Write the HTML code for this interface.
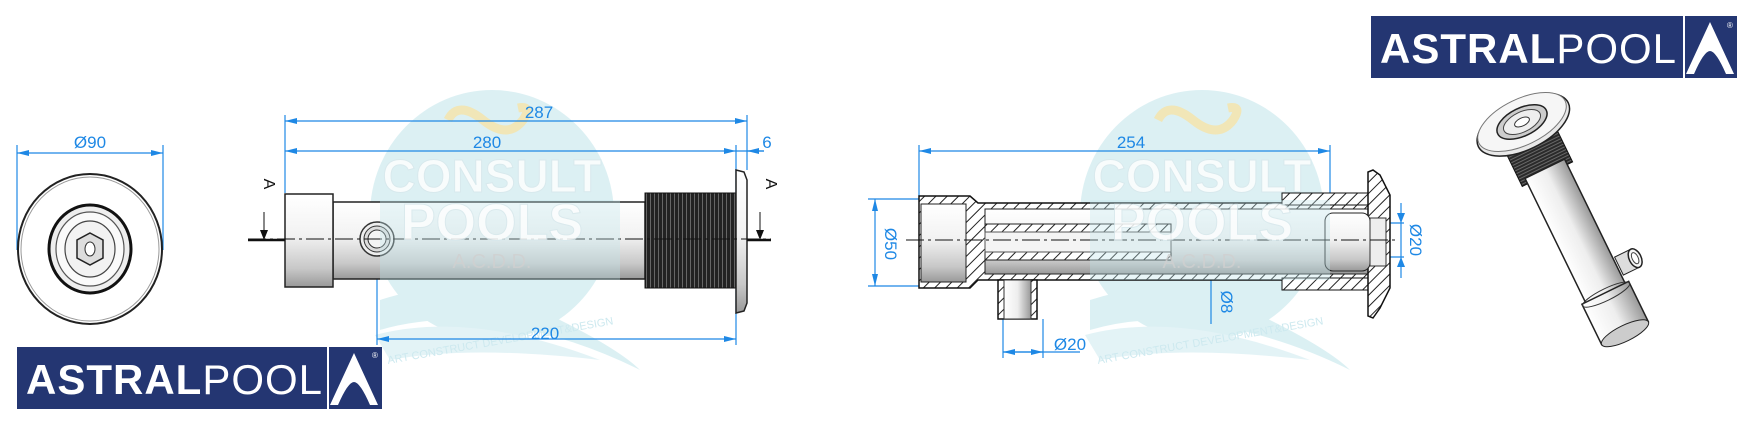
<!DOCTYPE html>
<html><head><meta charset="utf-8"><style>
html,body{margin:0;padding:0;background:#fff}
svg{display:block}
text{font-family:"Liberation Sans",sans-serif}
</style></head><body>
<svg width="1753" height="421" viewBox="0 0 1753 421" xmlns="http://www.w3.org/2000/svg">
<defs>
<linearGradient id="tg" x1="0" y1="0" x2="0" y2="1">
<stop offset="0" stop-color="#ffffff"/><stop offset="0.45" stop-color="#f2f2f2"/><stop offset="0.8" stop-color="#c8c8c8"/><stop offset="1" stop-color="#999"/></linearGradient>
<linearGradient id="tg3" x1="0" y1="0" x2="1" y2="0">
<stop offset="0" stop-color="#fff"/><stop offset="0.5" stop-color="#eee"/><stop offset="1" stop-color="#999"/></linearGradient>
<pattern id="thr" width="4" height="10" patternUnits="userSpaceOnUse"><rect width="4" height="10" fill="#222"/><rect x="2" width="1" height="10" fill="#666"/></pattern>
<pattern id="thr3" width="10" height="3" patternUnits="userSpaceOnUse"><rect width="10" height="3" fill="#2a2a2a"/><rect y="1.6" width="10" height="0.8" fill="#777"/></pattern>
<pattern id="hatch" width="8" height="8" patternUnits="userSpaceOnUse" patternTransform="rotate(45)"><rect width="8" height="8" fill="#fff"/><rect width="1" height="8" fill="#222"/></pattern>
<marker id="ar" markerWidth="12" markerHeight="6" refX="12" refY="3" orient="auto-start-reverse" markerUnits="userSpaceOnUse"><path d="M0,0 L12,3 L0,6z" fill="#1e88e5"/></marker>
</defs>

<!-- watermarks background -->
<g opacity="0.55">
<ellipse cx="492" cy="215" rx="122" ry="125" fill="#bfe4ea"/>
<path d="M380,300 Q470,270 560,320 Q620,350 640,370 Q560,330 470,320 Q420,318 380,330z" fill="#bfe4ea"/>
<path d="M375,335 Q470,310 600,360 Q470,345 390,360z" fill="#cdeaf0"/>
<ellipse cx="1202" cy="215" rx="122" ry="125" fill="#bfe4ea"/>
<path d="M1090,300 Q1180,270 1270,320 Q1330,350 1350,370 Q1270,330 1180,320 Q1130,318 1090,330z" fill="#bfe4ea"/>
<path d="M1085,335 Q1180,310 1310,360 Q1180,345 1100,360z" fill="#cdeaf0"/>
</g>
<path d="M448,120 q10,-20 35,0 q25,20 40,0 q10,-15 -5,-12" stroke="#f6e3a8" stroke-width="9" fill="none" opacity="0.8"/>
<path d="M1158,120 q10,-20 35,0 q25,20 40,0 q10,-15 -5,-12" stroke="#f6e3a8" stroke-width="9" fill="none" opacity="0.8"/>
<text x="388" y="364" font-size="11" fill="#cde9ef" font-family="Liberation Serif,serif" transform="rotate(-10 388 364)">ART CONSTRUCT DEVELOPMENT&amp;DESIGN</text>
<text x="1098" y="364" font-size="11" fill="#cde9ef" font-family="Liberation Serif,serif" transform="rotate(-10 1098 364)">ART CONSTRUCT DEVELOPMENT&amp;DESIGN</text>

<!-- front view -->
<g stroke="#1e88e5" stroke-width="1.2" fill="none">
<line x1="17" y1="145" x2="17" y2="250"/><line x1="163" y1="145" x2="163" y2="250"/>
<line x1="17" y1="153" x2="163" y2="153" marker-start="url(#ar)" marker-end="url(#ar)"/>
</g>
<text x="90" y="148" font-size="17" fill="#1e88e5" text-anchor="middle">Ø90</text>
<ellipse cx="90" cy="249" rx="72" ry="75" fill="#fff" stroke="#222" stroke-width="2"/>
<ellipse cx="90" cy="249" rx="69" ry="72" fill="none" stroke="#999" stroke-width="1"/>
<ellipse cx="90" cy="249" rx="41" ry="44" fill="#eee" stroke="#111" stroke-width="3"/>
<ellipse cx="90" cy="249" rx="34" ry="37" fill="#fafafa" stroke="#555" stroke-width="1.2"/>
<ellipse cx="90" cy="249" rx="25" ry="28" fill="#f2f2f2" stroke="#444" stroke-width="1.2"/>
<polygon points="90,233 103,240 103,258 90,265 77,258 77,240" fill="#ddd" stroke="#222" stroke-width="1.5"/>
<ellipse cx="90" cy="249" rx="5" ry="7" fill="#fff" stroke="#333"/>

<!-- logos -->
<g>
<rect x="17" y="347" width="365" height="62" fill="#243672"/>
<rect x="327" y="347" width="2" height="62" fill="#fff"/>
<text x="26" y="394" font-size="42" font-weight="bold" fill="#fff" letter-spacing="1">ASTRAL<tspan font-weight="normal">POOL</tspan></text>
<path d="M354,353 L378,405 L370,405 Q360,382 354,382 Q348,382 338,405 L330,405z" fill="#fff"/>
<text x="372" y="358" font-size="8" fill="#fff">®</text>
</g>
<g>
<rect x="1371" y="16" width="366" height="62" fill="#243672"/>
<rect x="1683" y="16" width="2" height="62" fill="#fff"/>
<text x="1380" y="63" font-size="42" font-weight="bold" fill="#fff" letter-spacing="1">ASTRAL<tspan font-weight="normal">POOL</tspan></text>
<path d="M1710,22 L1734,74 L1726,74 Q1716,51 1710,51 Q1704,51 1694,74 L1686,74z" fill="#fff"/>
<text x="1727" y="28" font-size="8" fill="#fff">®</text>
</g>

<!-- side view -->
<g stroke="#1e88e5" stroke-width="1.2" fill="none">
<line x1="285" y1="115" x2="285" y2="193"/><line x1="747" y1="115" x2="747" y2="170"/>
<line x1="736" y1="145" x2="736" y2="345"/><line x1="377" y1="239" x2="377" y2="345"/>
<line x1="285" y1="121" x2="747" y2="121" marker-start="url(#ar)" marker-end="url(#ar)"/>
<line x1="285" y1="151" x2="736" y2="151" marker-start="url(#ar)" marker-end="url(#ar)"/>
<line x1="736" y1="151" x2="764" y2="151"/>
<line x1="747" y1="151" x2="764" y2="151" marker-start="url(#ar)"/>
<line x1="377" y1="339" x2="736" y2="339" marker-start="url(#ar)" marker-end="url(#ar)"/>
</g>
<g font-size="17" fill="#1e88e5" text-anchor="middle">
<text x="539" y="118">287</text><text x="487" y="148">280</text><text x="767" y="148">6</text><text x="545" y="339">220</text>
</g>
<rect x="333" y="202" width="312" height="77" fill="url(#tg)" stroke="#222" stroke-width="1.5"/>
<rect x="285" y="194" width="48" height="93" fill="url(#tg)" stroke="#222" stroke-width="1.5"/>
<rect x="645" y="193" width="91" height="95" fill="url(#thr)" stroke="#111"/>
<path d="M736,170 L744,172 L747,180 L747,303 L744,311 L736,313z" fill="url(#tg)" stroke="#222" stroke-width="1.5"/>
<circle cx="377" cy="239" r="17" fill="#eee" stroke="#333" stroke-width="1.5"/>
<circle cx="377" cy="239" r="13" fill="#ddd" stroke="#333"/>
<circle cx="377" cy="239" r="9" fill="#f5f5f5" stroke="#333"/>
<line x1="248" y1="239" x2="771" y2="239" stroke="#111" stroke-width="1" stroke-dasharray="18,4,3,4"/>
<line x1="248" y1="240" x2="285" y2="240" stroke="#111" stroke-width="2.5"/>
<line x1="747" y1="240" x2="771" y2="240" stroke="#111" stroke-width="2.5"/>
<line x1="264" y1="212" x2="264" y2="232" stroke="#111"/><path d="M260,230 L264,240 L268,230z" fill="#111"/>
<line x1="760" y1="212" x2="760" y2="232" stroke="#111"/><path d="M756,230 L760,240 L764,230z" fill="#111"/>
<text x="264" y="184" font-size="16" fill="#111" text-anchor="middle" transform="rotate(90 264 184)">A</text>
<text x="766" y="184" font-size="16" fill="#111" text-anchor="middle" transform="rotate(90 766 184)">A</text>

<!-- section view -->
<g stroke="#1e88e5" stroke-width="1.2" fill="none">
<line x1="919" y1="145" x2="919" y2="196"/><line x1="1330" y1="145" x2="1330" y2="200"/>
<line x1="919" y1="151" x2="1330" y2="151" marker-start="url(#ar)" marker-end="url(#ar)"/>
<line x1="868" y1="199" x2="919" y2="199"/><line x1="868" y1="286" x2="919" y2="286"/>
<line x1="875" y1="199" x2="875" y2="286" marker-start="url(#ar)" marker-end="url(#ar)"/>
<line x1="1003" y1="319" x2="1003" y2="358"/><line x1="1043" y1="319" x2="1043" y2="358"/>
<line x1="1003" y1="352" x2="1080" y2="352"/>
<line x1="1003" y1="352" x2="1043" y2="352" marker-start="url(#ar)" marker-end="url(#ar)"/>
<line x1="1211" y1="214" x2="1211" y2="324"/>
<path d="M1207,226 L1211,236 L1215,226z M1207,252 L1211,242 L1215,252z" fill="#1e88e5" stroke="none"/>
<line x1="1385" y1="223" x2="1404" y2="223"/><line x1="1385" y1="257" x2="1404" y2="257"/>
<line x1="1401" y1="203" x2="1401" y2="278"/>
<path d="M1397,213 L1401,223 L1405,213z M1397,267 L1401,257 L1405,267z" fill="#1e88e5" stroke="none"/>
</g>
<g font-size="17" fill="#1e88e5">
<text x="1131" y="148" text-anchor="middle">254</text>
<text x="1070" y="350" text-anchor="middle">Ø20</text>
<text x="885" y="244" text-anchor="middle" transform="rotate(90 885 244)">Ø50</text>
<text x="1221" y="302" text-anchor="middle" transform="rotate(90 1221 302)">Ø8</text>
<text x="1410" y="240" text-anchor="middle" transform="rotate(90 1410 240)">Ø20</text>
</g>
<!-- section body -->
<path d="M919,196 L970,196 L978,203 L1373,203 L1373,280 L1030,280 L1030,280 L998,280 L978,280 L970,288 L919,288z" fill="url(#hatch)" stroke="#111" stroke-width="1.5"/>
<rect x="921" y="204" width="45" height="78" fill="url(#tg)" stroke="#222"/>
<rect x="985" y="209" width="388" height="65" fill="url(#tg)" stroke="#222"/>
<rect x="998" y="280" width="39" height="39" fill="url(#hatch)" stroke="#111" stroke-width="1.5"/>
<rect x="1004" y="280" width="27" height="39" fill="url(#tg3)" stroke="#333"/>
<rect x="985" y="224" width="186" height="8" fill="url(#hatch)" stroke="#222"/>
<rect x="985" y="252" width="186" height="8" fill="url(#hatch)" stroke="#222"/>
<rect x="985" y="232" width="186" height="20" fill="#f4f4f4" stroke="#555"/>
<rect x="1282" y="193" width="95" height="12" fill="url(#hatch)" stroke="#111"/>
<rect x="1282" y="278" width="95" height="12" fill="url(#hatch)" stroke="#111"/>
<path d="M1373,170 L1380,175 L1390,195 L1390,288 L1380,308 L1373,318 L1368,316 L1368,172z" fill="url(#hatch)" stroke="#111" stroke-width="1.5"/>
<rect x="1325" y="213" width="45" height="58" rx="8" fill="url(#tg)" stroke="#222"/>
<rect x="1370" y="218" width="16" height="48" fill="#eee" stroke="#333"/>
<line x1="906" y1="240" x2="1398" y2="240" stroke="#111" stroke-width="1" stroke-dasharray="18,4,3,4"/>

<!-- watermark overlay -->
<g opacity="0.35">
<rect x="380" y="200" width="240" height="80" fill="#bfe4ea"/>
<rect x="1090" y="200" width="240" height="80" fill="#bfe4ea"/>
</g>
<g font-family="Liberation Serif,serif" font-weight="bold" fill="#fff" opacity="0.8" stroke="#d8e8ec" stroke-width="1">
<text x="492" y="192" font-size="46" text-anchor="middle">CONSULT</text>
<text x="492" y="240" font-size="52" text-anchor="middle">POOLS</text>
<text x="1202" y="192" font-size="46" text-anchor="middle">CONSULT</text>
<text x="1202" y="240" font-size="52" text-anchor="middle">POOLS</text>
</g>
<text x="492" y="268" font-size="20" text-anchor="middle" fill="#d0d0d0" opacity="0.8" font-family="Liberation Serif,serif">A.C.D.D.</text>
<text x="1202" y="268" font-size="20" text-anchor="middle" fill="#d0d0d0" opacity="0.8" font-family="Liberation Serif,serif">A.C.D.D.</text>

<!-- 3D view -->
<g transform="translate(1522,122) rotate(-26)">
<rect x="-28" y="10" width="56" height="48" fill="url(#thr3)" stroke="#111"/>
<rect x="-22" y="52" width="44" height="175" fill="url(#tg3)" stroke="#222" stroke-width="1.5"/>
<rect x="-26" y="190" width="52" height="45" fill="url(#tg3)" stroke="#222" stroke-width="1.5"/>
<ellipse cx="0" cy="235" rx="26" ry="8" fill="#ccc" stroke="#222"/>
<ellipse cx="0" cy="192" rx="26" ry="6" fill="none" stroke="#333"/>
<g transform="translate(26,172)"><rect x="-2" y="-10" width="18" height="20" fill="#ddd" stroke="#222"/><ellipse cx="16" cy="0" rx="6" ry="10" fill="#f5f5f5" stroke="#222" stroke-width="1.5"/><ellipse cx="16" cy="0" rx="3" ry="6" fill="#fff" stroke="#444"/></g>
<ellipse cx="0" cy="3" rx="50" ry="25" fill="#e8e8e8" stroke="#222" stroke-width="1.5"/>
<ellipse cx="0" cy="0" rx="48" ry="23" fill="#f6f6f6" stroke="#777"/>
<ellipse cx="0" cy="0" rx="27" ry="14" fill="#ccc" stroke="#222" stroke-width="1.5"/>
<ellipse cx="0" cy="0" rx="20" ry="10" fill="#eee" stroke="#444"/>
<ellipse cx="0" cy="0" rx="8" ry="4" fill="#fff" stroke="#333"/>
</g>
</svg>
</body></html>
